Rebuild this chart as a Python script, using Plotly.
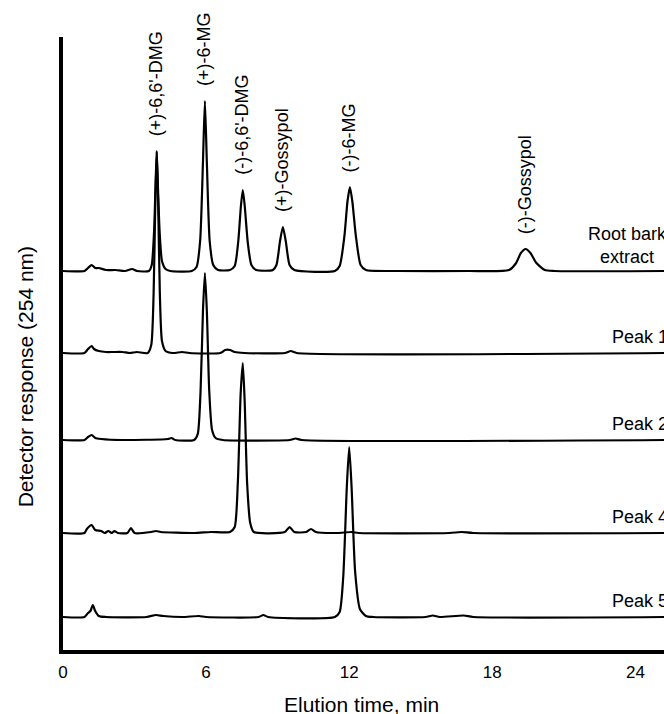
import numpy as np
import plotly.graph_objects as go

# ---------------- data ----------------
tick_vals = [0, 6, 12, 18, 24]

trace_names = ["Root bark<br>extract", "Peak 1", "Peak 2", "Peak 4", "Peak 5"]

# Root bark extract chromatogram (time, min / response)
rb_t = [0, 0.9, 1.05, 1.2, 1.35, 1.5, 1.8, 2.2, 2.6, 2.9, 3.1, 3.6, 3.72, 3.82, 3.88, 3.93, 3.98, 4.05,
        4.15, 4.3, 4.5, 5.4, 5.6, 5.75, 5.87, 5.95, 6.03, 6.15, 6.3, 6.5, 7.0, 7.2, 7.35, 7.46, 7.54,
        7.62, 7.75, 7.9, 8.1, 8.8, 8.95, 9.1, 9.22, 9.34, 9.5, 9.7, 11.4, 11.6, 11.8, 11.93, 12.03,
        12.13, 12.28, 12.48, 12.7, 14, 17, 18.7, 19.0, 19.2, 19.4, 19.6, 19.85, 20.2, 20.6, 25.2]
rb_y = [0, 0, 3, 6, 3, 3, 1, 1, 0, 2, 0, 0, 6, 40, 85, 120, 85, 40,
        10, 2, 0, 0, 4, 30, 110, 170, 110, 30, 6, 1, 1, 5, 30, 65, 81,
        65, 28, 6, 1, 1, 6, 30, 44, 30, 6, 1, 0, 5, 35, 70, 84,
        70, 35, 6, 1, 0, 0, 1, 8, 18, 22, 18, 8, 1, 0, 0]

p1_t = [0, 0.9, 1.05, 1.2, 1.3, 1.5, 1.8, 2.1, 2.5, 2.8, 3.1, 3.55, 3.7, 3.8, 3.87, 3.93, 3.99, 4.06,
        4.15, 4.3, 4.6, 5.0, 5.3, 6.6, 6.8, 7.0, 7.2, 7.6, 9.3, 9.55, 9.8, 25.2]
p1_y = [0, 0, 4, 7, 4, 2, 1, 1, 1, 0, 1, 0, 8, 60, 150, 201, 150, 60,
        12, 2, 0, 1, 0, 0, 3, 3, 1, 0, 0, 2, 0, 0]

p2_t = [0, 0.9, 1.05, 1.2, 1.35, 1.6, 2.5, 4.4, 4.55, 4.7, 5.5, 5.65, 5.77, 5.87, 5.95, 6.03, 6.13,
        6.25, 6.4, 6.7, 9.5, 9.75, 10.0, 25.2]
p2_y = [0, 0, 3, 5, 2, 1, 0, 1, 2, 0, 0, 6, 50, 130, 167, 130, 50,
        10, 2, 0, 0, 1.5, 0, 0]

p4_t = [0, 0.9, 1.0, 1.2, 1.35, 1.6, 1.75, 1.9, 2.05, 2.15, 2.3, 2.7, 2.85, 3.0, 3.7, 3.9, 4.1, 5.5,
        6.2, 7.0, 7.2, 7.33, 7.45, 7.54, 7.62, 7.72, 7.85, 8.0, 9.3, 9.5, 9.7, 10.2, 10.4, 10.6,
        11.5, 12.1, 12.4, 16.2, 16.7, 17.2, 25.2]
p4_y = [0, 0, 4, 8, 3, 2, 0, 2, 0, 2, 0, 0, 5, 0, 1, 2, 1, 0,
        1, 1, 6, 50, 140, 170, 130, 50, 10, 1, 1, 6, 1, 1, 4, 1,
        0, 1, 0, 0, 1, 0, 0]

p5_t = [0, 0.9, 1.05, 1.15, 1.25, 1.35, 1.5, 1.8, 3.5, 3.9, 4.2, 5.0, 5.7, 6.0, 8.2, 8.4, 8.6, 11.4,
        11.6, 11.75, 11.9, 12.0, 12.1, 12.25, 12.45, 12.7, 13.0, 15.2, 15.5, 15.8, 16.8, 17.2, 25.2]
p5_y = [0, 0, 4, 6, 12, 6, 1, 0, 0, 2, 1, 0, 1, 0, 0, 2, 0, 0,
        5, 40, 130, 170, 130, 45, 8, 1, 0, 0, 1.5, 0, 1.5, 0, 0]

peak_names = ["(+)-6,6'-DMG", "(+)-6-MG", "(-)-6,6'-DMG", "(+)-Gossypol", "(-)-6-MG", "(-)-Gossypol"]
peak_times = [3.93, 5.95, 7.54, 9.22, 12.03, 19.4]

# ---------------- layout constants ----------------
offsets = [379, 297, 210, 117, 33]   # vertical stacking of the chromatograms
series = [(rb_t, rb_y), (p1_t, p1_y), (p2_t, p2_y), (p4_t, p4_y), (p5_t, p5_y)]
FONT = "Liberation Sans, Arial, sans-serif"

fig = go.Figure()
for (t, y), off in zip(series, offsets):
    fig.add_trace(go.Scatter(x=t, y=np.array(y, dtype=float) + off, mode="lines",
                             line=dict(color="black", width=2.2, shape="spline", smoothing=0.6),
                             hoverinfo="skip", showlegend=False))

ann = []
# peak labels above the root-bark peaks
for name, tt in zip(peak_names, peak_times):
    top = np.interp(tt, rb_t, rb_y) + offsets[0]
    ann.append(dict(x=tt, y=top + 13, xref="x", yref="y", text=name, textangle=-90,
                    showarrow=False, xanchor="center", yanchor="bottom", xshift=-1,
                    font=dict(family=FONT, size=18, color="black")))

# trace labels on the right
ann.append(dict(x=23.65, y=offsets[0] + 26, xref="x", yref="y", text=trace_names[0],
                showarrow=False, xanchor="center", yanchor="middle", align="center",
                font=dict(family=FONT, size=18, color="black")))
for name, off in zip(trace_names[1:], offsets[1:]):
    ann.append(dict(x=22.94, y=off + 16, xref="x", yref="y", text=name, showarrow=False,
                    xanchor="left", yanchor="middle",
                    font=dict(family=FONT, size=18, color="black")))

# axis titles
ann.append(dict(x=0.497, y=-0.0897, xref="paper", yref="paper", text="Elution time, min",
                showarrow=False, xanchor="center", yanchor="middle",
                font=dict(family=FONT, size=21, color="black")))
ann.append(dict(x=-0.063, y=0.445, xref="paper", yref="paper", text="Detector response (254 nm)",
                showarrow=False, xanchor="center", yanchor="middle", textangle=-90,
                font=dict(family=FONT, size=21, color="black")))

fig.update_layout(
    width=664, height=714,
    margin=dict(l=63, r=0, t=37, b=64),
    paper_bgcolor="white", plot_bgcolor="white",
    annotations=ann,
    xaxis=dict(range=[0, 25.2], tickvals=tick_vals, showgrid=False, zeroline=False,
               showline=True, linecolor="black", linewidth=3.5, ticks="",
               ticklabelstandoff=4,
               tickfont=dict(family=FONT, size=17, color="black")),
    yaxis=dict(range=[0, 613], showgrid=False, zeroline=False, showticklabels=False,
               showline=True, linecolor="black", linewidth=3.5, ticks=""),
)

fig.write_html("out.html")
